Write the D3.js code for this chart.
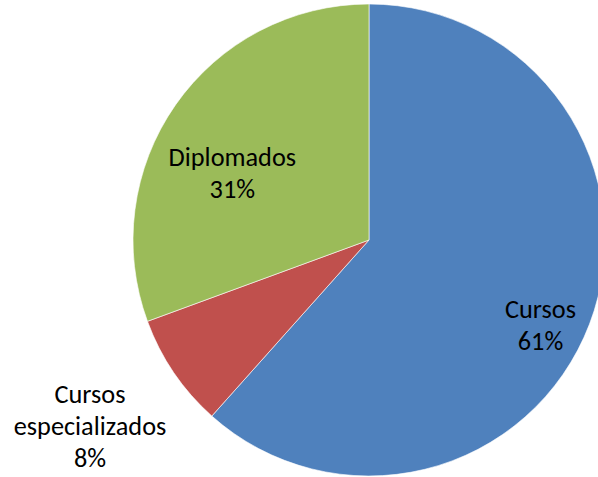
<!DOCTYPE html>
<html>
<head>
<meta charset="utf-8">
<script src="https://cdn.jsdelivr.net/npm/d3@7"></script>
<style>
  body { margin: 0; background: #fff; overflow: hidden; }
  text { font-family: Carlito, Calibri, Lato, sans-serif; font-size: 26.3px; fill: #000; }
</style>
</head>
<body>
<script>
// data
var categories = ["Cursos", "Cursos especializados", "Diplomados"];
var values = [61.6, 7.8, 30.6];
var labelLines = [["Cursos", "61%"], ["Cursos", "especializados", "8%"], ["Diplomados", "31%"]];
var colors = ["#4F81BD", "#C0504D", "#9BBB59"];

var width = 598, height = 477;
var cx = 369, cy = 240, radius = 236;

// where each label sits: fraction along slice angle, and distance as fraction of radius
var labelPos = [{t: 0.524, r: 0.81}, {t: 0.52, r: 1.42}, {t: 0.42, r: 0.645}];
var lineHeight = 32;

var svg = d3.select("body").append("svg")
    .attr("width", width)
    .attr("height", height);

var g = svg.append("g")
    .attr("transform", "translate(" + cx + "," + cy + ")");

var pie = d3.pie().sort(null).value(function(d) { return d; });
var arc = d3.arc().innerRadius(0).outerRadius(radius);
var arcs = pie(values);

g.selectAll("path.slice")
  .data(arcs)
  .enter().append("path")
    .attr("class", "slice")
    .attr("fill", function(d, i) { return colors[i]; })
    .attr("stroke", "#fff")
    .attr("stroke-width", 0.6)
    .attr("d", arc);

// labels
var labels = g.selectAll("text.label")
  .data(arcs)
  .enter().append("text")
    .attr("class", "label")
    .attr("text-anchor", "middle")
    .attr("transform", function(d, i) {
      var p = labelPos[i];
      var a = d.startAngle + (d.endAngle - d.startAngle) * p.t;
      var rr = radius * p.r;
      return "translate(" + (rr * Math.sin(a)) + "," + (-rr * Math.cos(a)) + ")";
    });

labels.each(function(d, i) {
  var lines = labelLines[i];
  var t = d3.select(this);
  lines.forEach(function(s, j) {
    t.append("tspan")
      .attr("x", 0)
      .attr("y", (j - (lines.length - 1) / 2) * lineHeight)
      .attr("dy", "0.35em")
      .text(s);
  });
});
</script>
</body>
</html>
